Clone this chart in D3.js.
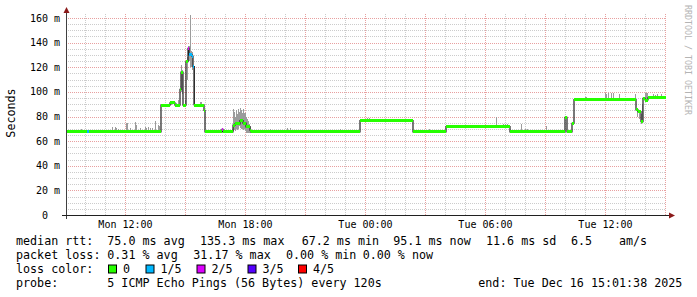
<!DOCTYPE html>
<html>
<head>
<meta charset="utf-8">
<script src="https://cdn.jsdelivr.net/npm/d3@7"></script>
<style>
  body { margin: 0; background: #fff; }
  text { font-family: "DejaVu Sans Mono", monospace; white-space: pre; }
</style>
</head>
<body>
<div id="chart"></div>
<script>
// time window of the graph
const startTime = new Date(2025, 11, 15, 9, 1, 38);
const endTime = new Date(2025, 11, 16, 15, 1, 38);

// median rtt (ms), step series: minutes after start, value, lost pings of 5
const medianT    = [0, 63, 69, 285, 312, 327, 342, 345, 351, 360, 366, 369, 378, 381, 385, 414, 417, 468, 471, 501, 507, 522, 531, 540, 552, 555, 882, 1041, 1140, 1332, 1497, 1503, 1518, 1524, 1710, 1716, 1725, 1731, 1737, 1746];
const medianV    = [67.5, 67.5, 67.5, 89.3, 91, 89.3, 102, 116, 89.3, 124.5, 135.3, 130, 129, 120.5, 89.3, 85, 67.5, 69.5, 67.5, 73, 74, 76.7, 74.7, 71.5, 69, 67.5, 76.6, 67.5, 71.8, 67.5, 79.3, 67.5, 74.5, 93.8, 85.3, 83.9, 75.8, 94.8, 93.4, 95.2];
const medianLoss = [0, 1, 0, 0, 0, 0, 0, 0, 0, 0, 2, 1, 1, 1, 0, 0, 0, 2, 0, 0, 0, 0, 0, 0, 0, 0, 0, 0, 0, 0, 0, 0, 0, 0, 0, 0, 0, 0, 0, 0];

// smoke (spread of the single pings), one 3 minute bin each
const smokeT  = [45, 138, 147, 150, 156, 180, 183, 192, 207, 210, 222, 237, 240, 246, 252, 258, 267, 276, 279,
                 312, 315, 330, 336, 345, 348, 357, 363, 366, 369, 372, 375, 378, 381, 402, 405,
                 462, 474, 501, 504, 507, 510, 513, 516, 519, 522, 525, 528, 531, 534, 537, 540, 543, 546, 549, 552,
                 612, 663, 672, 822, 903, 909, 1002, 1089,
                 1290, 1311, 1317, 1323, 1365, 1377, 1383, 1440,
                 1557, 1560, 1617, 1620, 1626, 1635, 1641, 1659, 1707,
                 1713, 1719, 1725, 1728, 1737, 1740, 1743, 1761, 1767, 1773, 1779, 1785];
const smokeLo = [67, 67, 67, 67, 67, 67, 67, 67, 67, 67, 67, 67, 67, 67, 67, 67, 67, 67, 67,
                 89, 89, 89, 89, 100, 98, 89, 110, 125, 125, 120, 120, 118, 89, 89, 89,
                 67, 67, 68, 69, 68, 70, 69, 70, 72, 71, 70, 70, 69, 70, 68, 67, 67, 67, 67, 67,
                 67, 67, 67, 67, 76, 76, 76, 67,
                 71, 71, 71, 71, 67, 67, 67, 67,
                 93, 93, 93, 93, 93, 93, 93, 93, 93,
                 80, 78, 74, 76, 93, 93, 93, 94, 94, 94, 94, 94];
const smokeHi = [69.6, 71.2, 71.7, 70.4, 69.6, 74.5, 74.4, 70.4, 75.8, 73, 70.4, 71.2, 70.4, 71.2, 70.4, 70.4, 76, 73, 72,
                 92.6, 92.6, 90.7, 93.4, 122, 118, 93.4, 128, 137, 137, 162.4, 133, 132, 121, 92, 92,
                 70, 70, 85.8, 84, 80, 85, 82, 86, 84, 87, 85, 83, 86, 83, 82.6, 80, 78, 76, 74, 72,
                 69.6, 70.9, 70.9, 69.6, 78.6, 78.6, 78.2, 69.6,
                 79.8, 74, 74, 74, 73.6, 69.6, 69.6, 72.3,
                 96.2, 96.2, 99.3, 98, 99.3, 98.8, 98.8, 98, 98,
                 86, 85, 82, 90, 99.3, 98.8, 99.3, 98.3, 97.5, 98.3, 97, 98];

// axis ticks
const yTicks = [0, 20, 40, 60, 80, 100, 120, 140, 160];
const yTickLabels = ["0  ", "20 m", "40 m", "60 m", "80 m", "100 m", "120 m", "140 m", "160 m"];

// legend
const lossColors = ["#26ff00", "#00b8ff", "#dd00ff", "#5500ff", "#ff0000"];
const lossLabels = ["0", "1/5", "2/5", "3/5", "4/5"];
const rttItems = ["median rtt:", "75.0 ms avg", "135.3 ms max", "67.2 ms min", "95.1 ms now", "11.6 ms sd", "6.5", "am/s"];
const lossItems = ["packet loss:", "0.31 % avg", "31.17 % max", "0.00 % min", "0.00 % now"];
const probeItems = ["probe:", "5 ICMP Echo Pings (56 Bytes) every 120s", "end: Tue Dec 16 15:01:38 2025"];

const width = 697;
const height = 297;
const left = 66, right = 666, bottom = 215;

const svg = d3.select("#chart").append("svg")
    .attr("width", width)
    .attr("height", height)
    .style("display", "block");

const minToDate = m => new Date(+startTime + m * 60000);

const x = d3.scaleTime().domain([startTime, endTime]).range([left, right]);
const y = d3.scaleLinear().domain([0, 160]).range([bottom, 18]);
const plotTop = y(164);

// grid
const grid = svg.append("g").attr("shape-rendering", "crispEdges");
d3.range(5, 165, 5).forEach(v => {
    const yy = Math.round(y(v)) + 0.5;
    grid.append("line")
        .attr("x1", left).attr("x2", right)
        .attr("y1", yy).attr("y2", yy)
        .attr("stroke", v % 20 === 0 ? "#e8a0a0" : "#cccccc")
        .attr("stroke-dasharray", "1,1");
});
x.ticks(d3.timeHour.every(1)).forEach(t => {
    const xx = Math.round(x(t)) + 0.5;
    grid.append("line")
        .attr("x1", xx).attr("x2", xx)
        .attr("y1", bottom).attr("y2", plotTop)
        .attr("stroke", t.getHours() % 3 === 0 ? "#e8a0a0" : "#cccccc")
        .attr("stroke-dasharray", "1,1");
});

// smoke
svg.append("g").attr("shape-rendering", "crispEdges")
    .selectAll("rect")
    .data(smokeT)
    .enter()
    .append("rect")
    .attr("x", d => Math.round(x(minToDate(d))))
    .attr("width", d => Math.max(1, Math.round(x(minToDate(d + 3)) - x(minToDate(d)))))
    .attr("y", (d, i) => y(smokeHi[i]))
    .attr("height", (d, i) => y(smokeLo[i]) - y(smokeHi[i]))
    .attr("fill", "#9c9c9c");

// median as black step line
const medPts = medianT.map((t, i) => [minToDate(t), medianV[i]]);
medPts.push([endTime, medianV[medianV.length - 1]]);
svg.append("path")
    .datum(medPts)
    .attr("fill", "none")
    .attr("stroke", "#202020")
    .attr("stroke-width", 1.2)
    .attr("d", d3.line().x(d => x(d[0])).y(d => y(d[1])).curve(d3.curveStepAfter));

// median coloured by loss
svg.append("g").attr("shape-rendering", "crispEdges")
    .selectAll("rect")
    .data(medianT)
    .enter()
    .append("rect")
    .attr("x", d => x(minToDate(d)))
    .attr("width", (d, i) => x(i < medianT.length - 1 ? minToDate(medianT[i + 1]) : endTime) - x(minToDate(d)))
    .attr("y", (d, i) => y(medianV[i]) - 1.5)
    .attr("height", 3)
    .attr("fill", (d, i) => lossColors[medianLoss[i]]);

// axes
svg.append("line")
    .attr("x1", left + 0.5).attr("x2", left + 0.5)
    .attr("y1", 219).attr("y2", 10)
    .attr("stroke", "#404040");
svg.append("line")
    .attr("x1", 62).attr("x2", 670)
    .attr("y1", bottom + 0.5).attr("y2", bottom + 0.5)
    .attr("stroke", "#202020");
svg.append("path")
    .attr("d", `M${left - 2.5},13 L${left + 0.5},7 L${left + 3.5},13 Z`)
    .attr("fill", "#8b1a1a");
svg.append("path")
    .attr("d", `M669,${bottom - 2.5} L675,${bottom + 0.5} L669,${bottom + 3.5} Z`)
    .attr("fill", "#8b1a1a");

// y tick labels
svg.append("g")
    .selectAll("text")
    .data(yTicks)
    .enter()
    .append("text")
    .attr("x", 60)
    .attr("y", d => y(d) + 3.5)
    .attr("text-anchor", "end")
    .attr("font-size", 10)
    .attr("fill", "#000")
    .text((d, i) => yTickLabels[i]);

// x tick labels
svg.append("g")
    .selectAll("text")
    .data(x.ticks(d3.timeHour.every(6)))
    .enter()
    .append("text")
    .attr("x", d => x(d))
    .attr("y", 228)
    .attr("text-anchor", "middle")
    .attr("font-size", 10)
    .attr("fill", "#000")
    .text(d3.timeFormat("%a %H:%M"));

// axis title
svg.append("text")
    .attr("transform", "translate(15,113) rotate(-90)")
    .attr("text-anchor", "middle")
    .attr("font-size", 11.7)
    .attr("fill", "#000")
    .text("Seconds");

// watermark
svg.append("text")
    .attr("transform", "translate(685,5) rotate(90)")
    .attr("font-size", 8.3)
    .attr("fill", "#b4b4b4")
    .text("RRDTOOL / TOBI OETIKER");

// legend
const legend = svg.append("g").attr("font-size", 11.7).attr("fill", "#000");
const rttX = [16, 107.3, 200, 301.7, 393.3, 486, 571, 619];
rttItems.forEach((s, i) => legend.append("text").attr("x", rttX[i]).attr("y", 245).text(s));
const lossX = [16, 107.3, 193.3, 286, 362.7];
lossItems.forEach((s, i) => legend.append("text").attr("x", lossX[i]).attr("y", 259).text(s));
legend.append("text").attr("x", 16).attr("y", 273).text("loss color:");
const boxX = [108.5, 146, 197, 248, 298.5];
lossLabels.forEach((s, i) => {
    legend.append("rect")
        .attr("x", boxX[i]).attr("y", 265)
        .attr("width", 8).attr("height", 8)
        .attr("fill", lossColors[i])
        .attr("stroke", "#000");
    legend.append("text").attr("x", boxX[i] + 14.5).attr("y", 273).text(s);
});
const probeX = [16, 107.3, 478.3];
probeItems.forEach((s, i) => legend.append("text").attr("x", probeX[i]).attr("y", 287).text(s));
</script>
</body>
</html>
